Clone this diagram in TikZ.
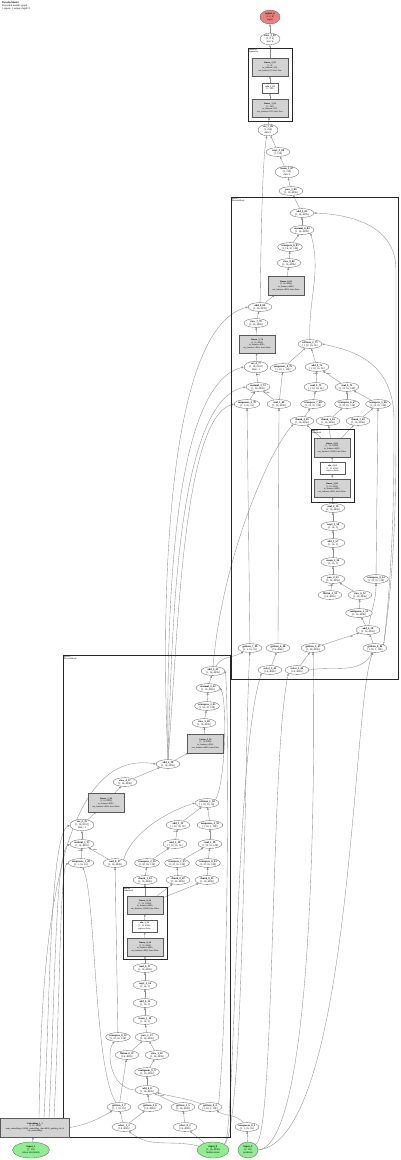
\documentclass[tikz,border=0pt]{standalone}
\usepackage{fontspec}
\setmainfont{Liberation Serif}
\usetikzlibrary{shapes.geometric,arrows.meta}

\definecolor{outred}{RGB}{240,128,128}
\definecolor{ingreen}{RGB}{144,238,144}
\definecolor{modgray}{RGB}{211,211,211}

\newcommand{\gsz}{\fontsize{2.6}{3.0}\selectfont}
\newcommand{\msz}{\fontsize{2.2}{2.6}\selectfont}

\pgfdeclarelayer{bg}
\pgfsetlayers{bg,main}

\tikzset{
  op/.style={ellipse, draw=black!65, fill=white, line width=0.3pt, inner sep=0.2pt,
    align=center, font=\gsz, minimum width=24pt, minimum height=8.8pt},
  opin/.style={op, fill=ingreen},
  opout/.style={op, fill=outred},
  mod/.style={rectangle, draw=black!65, fill=modgray, line width=0.3pt,
    inner sep=0.6pt, align=center, font=\msz, text width=35pt, minimum height=18.5pt},
  fn/.style={rectangle, draw=black!65, fill=white, line width=0.3pt,
    inner sep=0.6pt, align=center, font=\msz, text width=24pt, minimum height=12pt},
  grp/.style={draw=black!85, line width=0.9pt},
  grplbl/.style={anchor=north west, align=left, inner sep=0.6pt,
    font=\fontsize{2.2}{2.5}\selectfont},
  edge/.style={draw=black!45, line width=0.35pt, -{Triangle[length=2.2pt,width=1.8pt]}},
  elbl/.style={font=\fontsize{1.9}{2.1}\selectfont, inner sep=0.4pt},
}

\begin{document}
\begin{tikzpicture}[x=1pt,y=1pt]
  \useasboundingbox (0,0) rectangle (400,-1160);

  % Title
  \node[anchor=north west, align=left, inner sep=0pt, font=\fontsize{2.6}{3}\selectfont]
    (title) at (2,-1.5) {\textbf{DecoderModel}\\Recorded module graph\\3 inputs, 1 output, depth=3};

  % Clusters
  \draw[grp] (248,-48) rectangle (292,-121);
  \node[grplbl] (headlbl) at (248,-48) {classifier\\Sequential};
  \draw[grp] (231,-197) rectangle (398,-679);
  \node[grplbl] (blk1lbl) at (231,-197) {layers.1\\DecoderBlock};
  \draw[grp] (311,-429) rectangle (354,-502);
  \node[grplbl] (ffn1lbl) at (311,-429) {mlp.up\\Sequential};
  \draw[grp] (63,-655) rectangle (230,-1137);
  \node[grplbl] (blk0lbl) at (63,-655) {layers.0\\DecoderBlock};
  \draw[grp] (123,-887) rectangle (167,-959);
  \node[grplbl] (ffn0lbl) at (123,-887) {mlp.up\\Sequential};

  % Head
  \node[opout, minimum width=20pt, minimum height=14pt] (out) at (270,-17) {\textbf{output\_0}\\{[1, 2, 4]}\\logits};
  \node[op, minimum width=20pt] (view99) at (270,-39) {\textbf{view\_2\_99}\\{[1, 2, 4]}\\size=4};
  \node[mod] (lin95) at (270,-67) {\textbf{Linear\_2\_95}\\{[1, 8]}\\in\_features=128, out\_features=8, bias=True};
  \node[fn, text width=15pt, minimum height=10.5pt] (relu93) at (270,-88) {\textbf{relu\_1\_93}\\{[1, 128]}};
  \node[mod] (lin91) at (270,-108) {\textbf{Linear\_1\_91}\\{[1, 128]}\\in\_features=256, out\_features=128, bias=True};
  \node[op, minimum width=20pt] (cat89) at (268,-130) {\textbf{cat\_3\_89}\\{[1, 256]}\\dim=1};
  \node[op] (rsqrt88) at (278,-152) {\textbf{rsqrt\_3\_88}\\{[1, 128]}};
  \node[op] (mean87) at (287,-172) {\textbf{mean\_3\_87}\\{[1, 128]}\\dim=1};
  \node[op] (pow86) at (291,-191) {\textbf{pow\_3\_86}\\{[1, 16, 4096]}};

  % Block 1
  \node[op] (add85) at (302,-213) {\textbf{add\_9\_85}\\{[1, 16, 4096]}};
  \node[op] (mm84) at (302,-230) {\textbf{matmul\_6\_84}\\{[1, 16, 4096]}};
  \node[op] (tr83) at (290,-247) {\textbf{transpose\_8\_83}\\{[1, 16, 32, 128]}};
  \node[op] (view82) at (289,-263) {\textbf{view\_8\_82}\\{[1, 16, 4096]}};
  \node[mod] (lin81) at (286,-285.5) {\textbf{Linear\_6\_81}\\{[1, 16, 4096]}\\in\_features=4096, out\_features=4096, bias=False};
  \node[op] (add80) at (260,-307) {\textbf{add\_8\_80}\\{[1, 16, 4096]}};
  \node[op] (view79) at (256,-323) {\textbf{view\_7\_79}\\{[1, 16, 4096]}};
  \node[mod] (lin78) at (257,-344) {\textbf{Linear\_5\_78}\\{[1, 16, 4096]}\\in\_features=8192, out\_features=4096, bias=False};
  \node[op] (cat77) at (256,-367) {\textbf{cat\_4\_77}\\{[1, 16, 8192]}\\dim=-1};
  \node[op] (unsq76) at (283,-368) {\textbf{unsqueeze\_4\_76}\\{[1, 16, 1, 128]}};
  \node[op] (sm75) at (310,-344) {\textbf{softmax\_2\_75}\\{[1, 32, 16, 16]}};
  \node[op] (add74) at (317,-367) {\textbf{add\_6\_74}\\{[1, 32, 16, 16]}};
  \node[op] (mm73) at (258,-387) {\textbf{matmul\_3\_73}\\{[1, 16, 4096]}};
  \node[op] (mul72) at (316,-387) {\textbf{mul\_5\_72}\\{[1, 32, 16, 16]}};
  \node[op] (mul71) at (347,-387) {\textbf{mul\_4\_71}\\{[1, 32, 16, 128]}};
  \node[op] (unsq70) at (247,-404) {\textbf{unsqueeze\_3\_70}\\{[1, 1, 16, 16]}};
  \node[op] (mul69) at (279,-404) {\textbf{mul\_3\_69}\\{[1, 16, 4096]}};
  \node[op] (tr68) at (313,-404) {\textbf{transpose\_7\_68}\\{[1, 32, 16, 128]}};
  \node[op] (tr67) at (347,-404) {\textbf{transpose\_6\_67}\\{[1, 32, 16, 128]}};
  \node[op] (tr66) at (378,-404) {\textbf{transpose\_5\_66}\\{[1, 32, 16, 128]}};
  \node[op] (chunk65) at (302,-421) {\textbf{chunk\_4\_65}\\{[1, 16, 4096]}};
  \node[op] (chunk64) at (328,-421) {\textbf{chunk\_3\_64}\\{[1, 16, 4096]}};
  \node[op] (chunk63) at (358,-421) {\textbf{chunk\_2\_63}\\{[1, 16, 4096]}};
  \node[mod] (lin62) at (332,-447.5) {\textbf{Linear\_4\_62}\\{[1, 16, 12288]}\\in\_features=4096, out\_features=12288, bias=False};
  \node[fn] (silu61) at (332.5,-468.5) {\textbf{silu\_2\_61}\\{[1, 16, 4096]}\\inplace=False};
  \node[mod] (lin60) at (332,-488) {\textbf{Linear\_3\_60}\\{[1, 16, 4096]}\\in\_features=4096, out\_features=4096, bias=False};
  \node[op] (mul59) at (333,-508) {\textbf{mul\_2\_59}\\{[1, 16, 4096]}};
  \node[op] (rsqrt58) at (333,-526) {\textbf{rsqrt\_2\_58}\\{[1, 16, 1]}};
  \node[op] (add57) at (333,-543) {\textbf{add\_5\_57}\\{[1, 16, 1]}};
  \node[op] (mean56) at (333,-562) {\textbf{mean\_2\_56}\\{[1, 16, 1]}};
  \node[op] (pow55) at (333,-579) {\textbf{pow\_2\_55}\\{[1, 16, 4096]}};
  \node[op] (tr54) at (376,-579) {\textbf{transpose\_4\_54}\\{[1, 32, 16, 128]}};
  \node[op] (flat53) at (330,-595) {\textbf{flatten\_1\_53}\\{[16, 4096]}};
  \node[op] (view52) at (360,-595) {\textbf{view\_6\_52}\\{[1, 16, 4096]}};
  \node[op] (cont51) at (359,-613) {\textbf{contiguous\_1\_51}\\{[1, 16, 4096]}};
  \node[op] (add50) at (368,-630) {\textbf{add\_4\_50}\\{[1, 16, 4096]}};
  \node[op] (get49) at (250,-648) {\textbf{getitem\_7\_49}\\{[1, 1, 16, 16]}};
  \node[op] (get48) at (278,-648) {\textbf{getitem\_6\_48}\\{[16, 4096]}};
  \node[op] (get47) at (313,-648) {\textbf{getitem\_5\_47}\\{[1, 16, 4096]}};
  \node[op] (get46) at (375,-648) {\textbf{getitem\_4\_46}\\{[1, 16, 1, 128]}};
  \node[op] (sel45) at (270,-670) {\textbf{select\_3\_45}\\{[16, 4096]}};
  \node[op] (sel44) at (297,-670) {\textbf{select\_2\_44}\\{[16, 4096]}};

  % Block 0
  \node[op] (add43) at (213,-671) {\textbf{add\_3\_43}\\{[1, 16, 4096]}};
  \node[op] (mm42) at (208,-688) {\textbf{matmul\_2\_42}\\{[1, 16, 4096]}};
  \node[op] (tr41) at (207,-706) {\textbf{transpose\_3\_41}\\{[1, 16, 32, 128]}};
  \node[op] (view40) at (204,-723) {\textbf{view\_5\_40}\\{[1, 16, 4096]}};
  \node[mod] (lin39) at (205.5,-743.5) {\textbf{Linear\_2\_39}\\{[1, 16, 4096]}\\in\_features=4096, out\_features=4096, bias=False};
  \node[op] (add38) at (168,-764) {\textbf{add\_2\_38}\\{[1, 16, 4096]}};
  \node[op] (view37) at (125,-782) {\textbf{view\_4\_37}\\{[1, 16, 4096]}};
  \node[mod] (lin36) at (106,-802.5) {\textbf{Linear\_1\_36}\\{[1, 16, 4096]}\\in\_features=8192, out\_features=4096, bias=False};
  \node[op] (cat35) at (82,-825) {\textbf{cat\_2\_35}\\{[1, 16, 8192]}\\dim=-1};
  \node[op] (sm34) at (207,-803) {\textbf{softmax\_1\_34}\\{[1, 32, 16, 16]}};
  \node[op] (add33) at (178,-825) {\textbf{add\_1\_33}\\{[1, 32, 16, 16]}};
  \node[op] (unsq32) at (210,-825) {\textbf{unsqueeze\_2\_32}\\{[1, 16, 1, 128]}};
  \node[op] (mm31) at (82,-844) {\textbf{matmul\_1\_31}\\{[1, 16, 4096]}};
  \node[op] (mul30) at (175,-844) {\textbf{mul\_2\_30}\\{[1, 32, 16, 16]}};
  \node[op] (mul29) at (210,-844) {\textbf{mul\_1\_29}\\{[1, 32, 16, 128]}};
  \node[op] (unsq28) at (81,-863) {\textbf{unsqueeze\_1\_28}\\{[1, 1, 16, 16]}};
  \node[op] (mul27) at (115,-863) {\textbf{mul\_0\_27}\\{[1, 16, 4096]}};
  \node[op] (tr26) at (147,-863) {\textbf{transpose\_2\_26}\\{[1, 32, 16, 128]}};
  \node[op] (tr25) at (177,-863) {\textbf{transpose\_1\_25}\\{[1, 32, 16, 128]}};
  \node[op] (tr24) at (208,-863) {\textbf{transpose\_0\_24}\\{[1, 32, 16, 128]}};
  \node[op] (chunk23) at (145,-880) {\textbf{chunk\_1\_23}\\{[1, 16, 4096]}};
  \node[op] (chunk22) at (178,-880) {\textbf{chunk\_0\_22}\\{[1, 16, 4096]}};
  \node[op] (chunk21) at (207,-880) {\textbf{chunk\_0\_21}\\{[1, 16, 4096]}};
  \node[mod] (lin20) at (145,-905) {\textbf{Linear\_0\_20}\\{[1, 16, 12288]}\\in\_features=4096, out\_features=12288, bias=False};
  \node[fn] (silu19) at (144.5,-926) {\textbf{silu\_1\_19}\\{[1, 16, 4096]}\\inplace=False};
  \node[mod] (lin18) at (145,-947) {\textbf{Linear\_0\_18}\\{[1, 16, 4096]}\\in\_features=4096, out\_features=4096, bias=False};
  \node[op] (mul17) at (145,-968) {\textbf{mul\_0\_17}\\{[1, 16, 4096]}};
  \node[op] (rsqrt16) at (145,-985) {\textbf{rsqrt\_1\_16}\\{[1, 16, 1]}};
  \node[op] (add15) at (145,-1003) {\textbf{add\_0\_15}\\{[1, 16, 1]}};
  \node[op] (mean14) at (145,-1020) {\textbf{mean\_1\_14}\\{[1, 16, 1]}};
  \node[op] (pow13) at (147,-1037) {\textbf{pow\_1\_13}\\{[1, 16, 4096]}};
  \node[op] (tr12) at (118,-1037) {\textbf{transpose\_0\_12}\\{[1, 32, 16, 128]}};
  \node[op] (flat11) at (127,-1055) {\textbf{flatten\_0\_11}\\{[16, 4096]}};
  \node[op] (view10) at (157,-1055) {\textbf{view\_1\_10}\\{[1, 16, 4096]}};
  \node[op] (cont9) at (147,-1072) {\textbf{contiguous\_0\_9}\\{[1, 16, 4096]}};
  \node[op] (add8) at (147,-1090) {\textbf{add\_0\_8}\\{[1, 16, 4096]}};
  \node[op] (get7) at (119,-1107) {\textbf{getitem\_3\_7}\\{[1, 1, 16, 16]}};
  \node[op] (get6) at (150,-1107) {\textbf{getitem\_2\_6}\\{[16, 4096]}};
  \node[op] (get5) at (183,-1107) {\textbf{getitem\_1\_5}\\{[1, 16, 4096]}};
  \node[op] (get4) at (210,-1107) {\textbf{getitem\_0\_4}\\{[1, 16, 1, 128]}};
  \node[op] (sel3) at (124,-1127) {\textbf{select\_1\_3}\\{[16, 4096]}};
  \node[op] (sel2) at (185,-1127) {\textbf{select\_0\_2}\\{[16, 4096]}};

  % Inputs
  \node[mod, text width=68pt, minimum height=19pt] (emb) at (35,-1127.5) {\textbf{Embedding\_1\_1}\\{[1, 16, 4096]}\\num\_embeddings=32000, embedding\_dim=4096, padding\_idx=0\\tok\_embeddings};
  \node[op] (unsq1) at (247,-1127) {\textbf{unsqueeze\_0\_1}\\{[1, 1, 16, 16]}};
  \node[opin, minimum width=37pt, minimum height=16pt] (in0) at (31,-1150) {\textbf{input\_1}\\{[1, 16]}\\token ids (int64)};
  \node[opin, minimum width=32pt, minimum height=16pt] (in1) at (213,-1150) {\textbf{input\_0}\\{[1, 16, 4096]}\\hidden states};
  \node[opin, minimum width=20pt, minimum height=16pt] (in2) at (248,-1150) {\textbf{input\_2}\\{[1, 16]}\\positions};

  \begin{pgfonlayer}{bg}
    % Head edges
    \draw[edge] (view99) -- (out);
    \draw[edge] (lin95) -- (view99);
    \draw[edge] (relu93) -- (lin95);
    \draw[edge] (lin91) -- (relu93);
    \draw[edge] (cat89) -- (lin91);
    \draw[edge] (rsqrt88) -- (cat89);
    \draw[edge] (mean87) -- (rsqrt88);
    \draw[edge] (pow86) -- (mean87);
    \draw[edge] (add85) -- (pow86);
    \draw[edge] (add80) .. controls (261,-250) and (262,-160) .. (cat89);

    % Block 1 edges
    \draw[edge] (mm84) -- (add85);
    \draw[edge] (tr83) -- (mm84);
    \draw[edge] (sm75) to[out=92,in=-75] (mm84.south east);
    \draw[edge] (view82) -- (tr83);
    \draw[edge] (lin81) -- (view82);
    \draw[edge] (add80) -- (lin81);
    \draw[edge] (view79) -- (add80);
    \draw[edge] (lin78) -- (view79);
    \draw[edge] (cat77) -- (lin78);
    \draw[edge] (mm73) -- (cat77) node[elbl, pos=0.75, right] {self};
    \draw[edge] (unsq76) -- (sm75);
    \draw[edge] (add74) -- (sm75);
    \draw[edge] (mul72) -- (add74) node[elbl, pos=0.8, left] {self};
    \draw[edge] (mul71) -- (add74) node[elbl, pos=0.8, right] {other};
    \draw[edge] (unsq70) -- (mm73) node[elbl, pos=0.8, left] {self};
    \draw[edge] (mul69) -- (mm73) node[elbl, pos=0.8, right] {other};
    \draw[edge] (mul69) -- (unsq76);
    \draw[edge] (tr68) -- (mul72);
    \draw[edge] (tr67) -- (mul71);
    \draw[edge] (tr66) -- (mul71);
    \draw[edge] (chunk65) -- (tr68);
    \draw[edge] (chunk64) -- (tr67);
    \draw[edge] (chunk63) -- (tr66);
    \draw[edge] (lin62) -- (chunk65);
    \draw[edge] (lin62) -- (chunk64);
    \draw[edge] (lin62) -- (chunk63);
    \draw[edge] (silu61) -- (lin62);
    \draw[edge] (lin60) -- (silu61);
    \draw[edge] (mul59) -- (lin60);
    \draw[edge] (rsqrt58) -- (mul59);
    \draw[edge] (add57) -- (rsqrt58);
    \draw[edge] (mean56) -- (add57);
    \draw[edge] (pow55) -- (mean56);
    \draw[edge] (flat53) -- (pow55) node[elbl, pos=0.7, left] {self};
    \draw[edge] (view52) -- (pow55);
    \draw[edge] (cont51) -- (view52);
    \draw[edge] (add50) -- (cont51);
    \draw[edge] (add50) to[out=80,in=-90] (tr54);
    \draw[edge] (tr54) -- (tr66);
    \draw[edge] (get47) -- (add50) node[elbl, pos=0.8, below] {self};
    \draw[edge] (get46) -- (add50);
    \draw[edge] (get49) -- (unsq70);
    \draw[edge] (get48) -- (mul69);
    \draw[edge] (sel45) -- (get48);
    \draw[edge] (sel44) -- (get47);
    \draw[edge] (sel44.east) to[out=10,in=-120] (get46);
    \draw[edge] (get46.north east) .. controls (396,-560) and (396,-480) .. (396,-420)
      -- (396,-270) .. controls (396,-230) and (360,-215) .. (add85.east);
    \draw[edge] (get46.north east) .. controls (394,-560) and (394,-470) .. (394,-420)
      .. controls (394,-360) and (350,-350) .. (sm75.east);

    % Block 0 to block 1
    \draw[edge] (add38.north) .. controls (162,-640) and (160,-330) .. (add80.west);
    \draw[edge] (add38.north) .. controls (167,-640) and (168,-385) .. (cat77.west);
    \draw[edge] (add38.north) .. controls (172,-640) and (175,-400) .. (mm73.west);
    \draw[edge] (add38.north) .. controls (178,-640) and (182,-418) .. (unsq70.west);
    \draw[edge] (add43) to[out=60,in=-150] (get49);
    \draw[edge] (add43.north) .. controls (222,-560) and (268,-452) .. (chunk65.south west);

    % Block 0 edges
    \draw[edge] (mm42) -- (add43);
    \draw[edge] (tr41) -- (mm42);
    \draw[edge] (sm34.north east) .. controls (226,-780) and (227,-700) .. (mm42.east);
    \draw[edge] (view40) -- (tr41);
    \draw[edge] (lin39) -- (view40);
    \draw[edge] (add38) -- (lin39);
    \draw[edge] (view37) -- (add38);
    \draw[edge] (lin36) -- (view37);
    \draw[edge] (cat35) -- (lin36);
    \draw[edge] (mm31) -- (cat35);
    \draw[edge] (unsq32) -- (sm34);
    \draw[edge] (add33) -- (sm34);
    \draw[edge] (mul27.north east) .. controls (130,-835) and (165,-812) .. (sm34.west);
    \draw[edge] (mul30) -- (add33) node[elbl, pos=0.8, left] {self};
    \draw[edge] (mul29) -- (unsq32);
    \draw[edge] (unsq28) -- (mm31) node[elbl, pos=0.8, left] {self};
    \draw[edge] (mul27) -- (mm31) node[elbl, pos=0.8, right] {other};
    \draw[edge] (tr26) -- (mul30);
    \draw[edge] (tr25) -- (mul29);
    \draw[edge] (tr24) -- (mul29);
    \draw[edge] (chunk23) -- (tr26);
    \draw[edge] (chunk22) -- (tr25);
    \draw[edge] (chunk21) -- (tr24);
    \draw[edge] (lin20) -- (chunk23);
    \draw[edge] (lin20) -- (chunk22);
    \draw[edge] (lin20) -- (chunk21);
    \draw[edge] (silu19) -- (lin20);
    \draw[edge] (lin18) -- (silu19);
    \draw[edge] (mul17) -- (lin18);
    \draw[edge] (rsqrt16) -- (mul17);
    \draw[edge] (add15) -- (rsqrt16);
    \draw[edge] (mean14) -- (add15);
    \draw[edge] (pow13) -- (mean14);
    \draw[edge] (flat11) -- (pow13);
    \draw[edge] (view10) -- (pow13);
    \draw[edge] (cont9) -- (view10);
    \draw[edge] (add8) -- (cont9);
    \draw[edge] (add8.west) .. controls (110,-1088) and (106,-1052) .. (tr12);
    \draw[edge] (tr12) -- (mul27);
    \draw[edge] (get5) -- (add8) node[elbl, pos=0.75, right] {other};
    \draw[edge] (get6) -- (add8);
    \draw[edge] (get4) to[out=160,in=-15] (add8);
    \draw[edge] (get4.north east) .. controls (229,-1000) and (229,-700) .. (add43.east);
    \draw[edge] (get7) -- (flat11);
    \draw[edge] (get7) .. controls (94,-1070) and (96,-900) .. (unsq28);
    \draw[edge] (sel3) -- (get7);
    \draw[edge] (sel3) -- (get6);
    \draw[edge] (sel2) -- (get5);

    % Inputs
    \draw[edge] (in0) -- (emb);
    \draw[edge] (emb.east) to[out=10,in=-150] (get7);
    \draw[edge] ([xshift=4pt]emb.north) .. controls (41,-1000) and (45,-745) .. (add38.west);
    \draw[edge] ([xshift=9pt]emb.north) .. controls (50,-1000) and (50,-835) .. (cat35.west);
    \draw[edge] ([xshift=14pt]emb.north) .. controls (55,-1000) and (55,-852) .. (mm31.west);
    \draw[edge] ([xshift=19pt]emb.north) .. controls (60,-1000) and (60,-870) .. (unsq28.west);
    \draw[edge] (in1) to[out=165,in=-40] (sel3);
    \draw[edge] (in1) -- (sel2);
    \draw[edge] (in2) -- (unsq1);
    \draw[edge] (unsq1) to[out=130,in=-30] (get4);
    \draw[edge] (in1.north east) .. controls (236,-1135) and (234,-760) .. (sel45.south west);
    \draw[edge] (in1.north east) .. controls (244,-1128) and (244,-760) .. (get49);
    \draw[edge] (in2.north east) .. controls (275,-1145) and (270,-760) .. (sel44.south west);
    \draw[edge] (in2.east) .. controls (315,-1145) and (315,-760) .. (get47);
    \draw[edge] (in2.east) .. controls (352,-1140) and (352,-700) .. (get46);
  \end{pgfonlayer}
\end{tikzpicture}
\end{document}
